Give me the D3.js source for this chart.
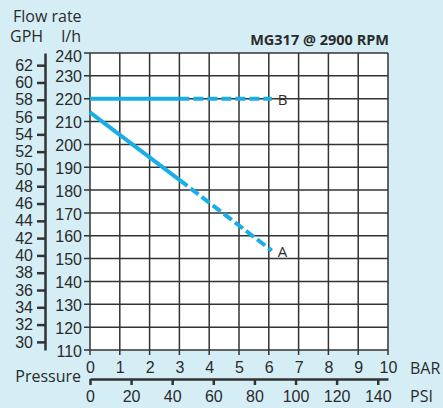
<!DOCTYPE html>
<html>
<head>
<meta charset="utf-8">
<script src="https://cdn.jsdelivr.net/npm/d3@7"></script>
<style>
  body { margin: 0; background: #d5eef6; }
  svg { display: block; font-family: "Open Sans", sans-serif; }
</style>
</head>
<body>
<svg id="js-svg" width="443" height="408"></svg>
<script>
// chart values
const barTicks = [0, 1, 2, 3, 4, 5, 6, 7, 8, 9, 10];
const psiTicks = [0, 20, 40, 60, 80, 100, 120, 140];
const lhTicks = [110, 120, 130, 140, 150, 160, 170, 180, 190, 200, 210, 220, 230, 240];
const gphTicks = [30, 32, 34, 36, 38, 40, 42, 44, 46, 48, 50, 52, 54, 56, 58, 60, 62];

// curve points: pressure (bar), flow (l/h); solid up to index 1, dashed after
const curveA_bar = [0, 3, 6.1];
const curveA_lh = [214, 184.5, 153.5];
const curveB_bar = [0, 3, 6.1];
const curveB_lh = [220, 220, 220];

const LPH_PER_GPH = 3.785;
const PSI_PER_BAR = 14.5;

const svg = d3.select("#js-svg");
const textColor = "#2b2b2b";
const gridColor = "#333";
const lineColor = "#1aaee6";

const x = d3.scaleLinear().domain([0, 10]).range([90, 388]);
const y = d3.scaleLinear().domain([110, 240]).range([350, 53]);
const xPsi = d3.scaleLinear().domain([0, 10 * PSI_PER_BAR]).range([90, 388]);
const yGph = d3.scaleLinear().domain([110 / LPH_PER_GPH, 240 / LPH_PER_GPH]).range([350, 53]);

// plot background
svg.append("rect")
  .attr("x", x(0)).attr("y", y(240))
  .attr("width", x(10) - x(0)).attr("height", y(110) - y(240))
  .attr("fill", "#fff");

// grid
svg.append("g").selectAll("line").data(barTicks).join("line")
  .attr("x1", (d) => x(d)).attr("x2", (d) => x(d))
  .attr("y1", y(240)).attr("y2", y(110) + 5)
  .attr("stroke", gridColor).attr("stroke-width", 1.5);
svg.append("g").selectAll("line").data(lhTicks).join("line")
  .attr("x1", x(0) - 6).attr("x2", x(10))
  .attr("y1", (d) => y(d)).attr("y2", (d) => y(d))
  .attr("stroke", gridColor).attr("stroke-width", 1.5);

const styleText = (g) => {
  g.selectAll("text").attr("fill", textColor).style("font-size", "16px");
};

// l/h axis labels
svg.append("g")
  .attr("transform", `translate(${x(0)},0)`)
  .call(d3.axisLeft(y).tickValues(lhTicks).tickSize(5).tickPadding(4).tickFormat(d3.format("d")))
  .call((g) => g.select(".domain").remove())
  .call((g) => g.selectAll(".tick line").remove())
  .call((g) => g.selectAll("text").attr("x", -8).attr("y", (d) => (d === 240 ? 3 : 1)))
  .call(styleText);

// GPH axis
svg.append("g")
  .attr("transform", "translate(45,0)")
  .call(d3.axisLeft(yGph).tickValues(gphTicks).tickSize(8).tickSizeOuter(0).tickPadding(4).tickFormat(d3.format("d")))
  .call((g) => g.selectAll(".domain, .tick line").attr("stroke", gridColor).attr("stroke-width", 2.5))
  .call(styleText);

// BAR labels
svg.append("g")
  .attr("transform", `translate(0,${y(110)})`)
  .call(d3.axisBottom(x).tickValues(barTicks).tickSize(5).tickPadding(7).tickFormat(d3.format("d")))
  .call((g) => g.select(".domain").remove())
  .call((g) => g.selectAll(".tick line").remove())
  .call(styleText);

// PSI axis
svg.append("g")
  .attr("transform", "translate(0,379)")
  .call(d3.axisBottom(xPsi).tickValues(psiTicks).tickSize(6).tickSizeOuter(0).tickPadding(6).tickFormat(d3.format("d")))
  .call((g) => g.selectAll(".domain, .tick line").attr("stroke", gridColor).attr("stroke-width", 2.5))
  .call(styleText);

// curves
const line = d3.line().x((d) => x(d[0])).y((d) => y(d[1]));
const drawCurve = (bars, flows, name) => {
  const pts = bars.map((b, i) => [b, flows[i]]);
  svg.append("path").datum(pts.slice(0, 2)).attr("d", line)
    .attr("fill", "none").attr("stroke", lineColor).attr("stroke-width", 4);
  svg.append("path").datum(pts.slice(1)).attr("d", line)
    .attr("fill", "none").attr("stroke", lineColor).attr("stroke-width", 4)
    .attr("stroke-dasharray", "10,4");
  const last = pts[pts.length - 1];
  svg.append("text")
    .attr("x", x(last[0]) + 6).attr("y", y(last[1]) + 6)
    .attr("fill", textColor).style("font-size", "15px")
    .text(name);
};
drawCurve(curveA_bar, curveA_lh, "A");
drawCurve(curveB_bar, curveB_lh, "B");

// texts
const label = (tx, ty, s, anchor = "start", size = 16, weight = "normal") =>
  svg.append("text").attr("x", tx).attr("y", ty).attr("text-anchor", anchor)
    .attr("fill", textColor).style("font-size", size + "px").style("font-weight", weight)
    .text(s);

label(13, 22, "Flow rate");
label(10, 42, "GPH");
label(81, 42, "l/h", "end");
label(389, 45, "MG317 @ 2900 RPM", "end", 14.5, "bold");
label(81, 382, "Pressure", "end");
label(410, 374, "BAR");
label(410, 402, "PSI");
</script>
</body>
</html>
